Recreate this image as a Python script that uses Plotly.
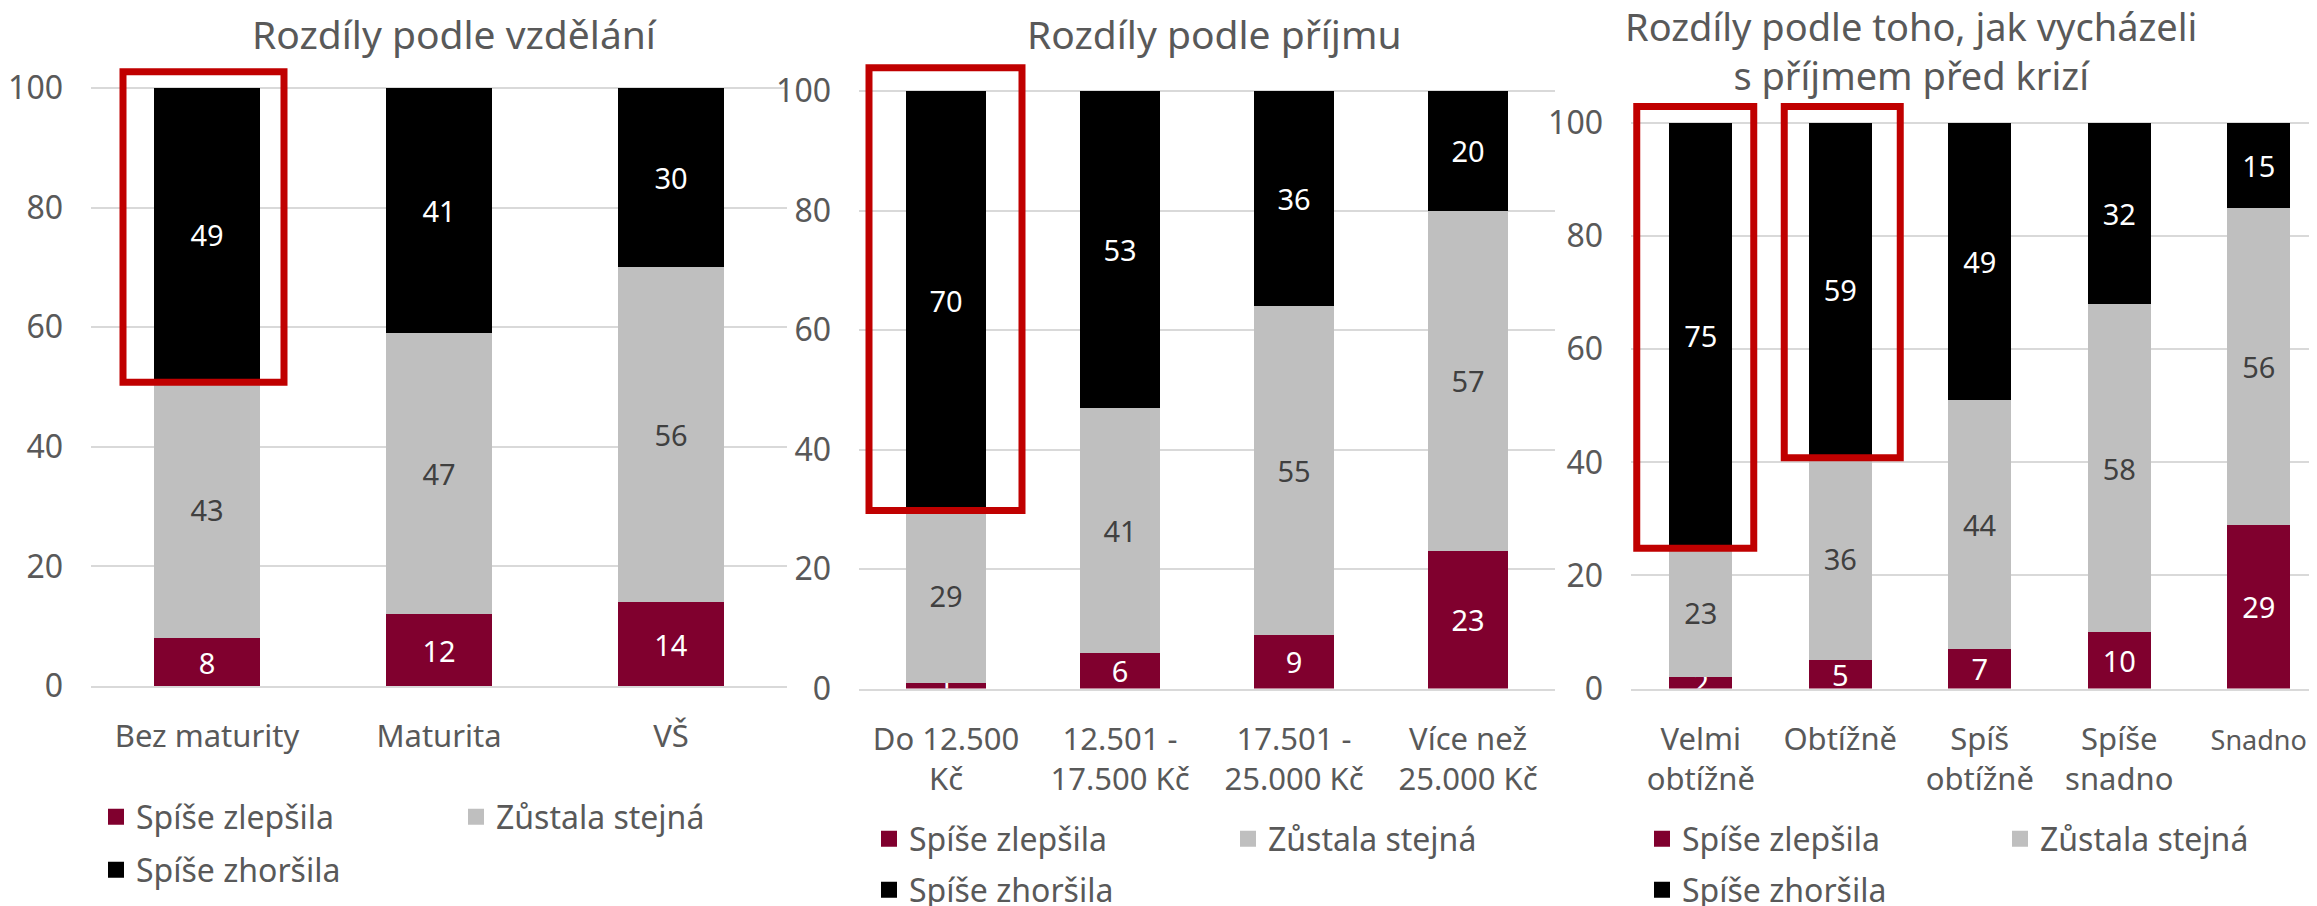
import plotly.graph_objects as go

W, H = 2317, 906
OFF = 8  # page body margin: figure pixel = screen pixel - OFF

# ---------------- data ----------------
series_names = ["Spíše zlepšila", "Zůstala stejná", "Spíše zhoršila"]

edu_cats = ["Bez maturity", "Maturita", "VŠ"]
edu_better = [8, 12, 14]
edu_same = [43, 47, 56]
edu_worse = [49, 41, 30]

inc_cats = ["Do 12.500<br>Kč", "12.501 -<br>17.500 Kč", "17.501 -<br>25.000 Kč", "Více než<br>25.000 Kč"]
inc_better = [1, 6, 9, 23]
inc_same = [29, 41, 55, 57]
inc_worse = [70, 53, 36, 20]

cope_cats = ["Velmi<br>obtížně", "Obtížně", "Spíš<br>obtížně", "Spíše<br>snadno", "Snadno"]
cope_better = [2, 5, 7, 10, 29]
cope_same = [23, 36, 44, 58, 56]
cope_worse = [75, 59, 49, 32, 15]

titles = ["Rozdíly podle vzdělání", "Rozdíly podle příjmu",
          "Rozdíly podle toho, jak vycházeli<br>s příjmem před krizí"]
y_ticks = [0, 20, 40, 60, 80, 100]
highlighted = [[0], [0], [0, 1]]

# ---------------- styles ----------------
FONT = "Noto Sans"
TXT = "#595959"
colors = ["#80002E", "#BFBFBF", "#000000"]
label_colors = ["#FFFFFF", "#404040", "#FFFFFF"]
GRID = "#D9D9D9"
XTICK_SIZE = 31
YTICK_SIZE = 32
LEG_SIZE = 32
LABEL_SIZE = 29
TITLE_SIZES = [39, 39, 38]
YMAX = 106  # headroom above 100 so the highlight frames are not clipped
EDGE_LABEL_SIZE = {"Snadno": 27}  # label at the cut right edge is set a bit smaller

# pixel layout given in screen coordinates
panels = [
    dict(cats=edu_cats, vals=[edu_better, edu_same, edu_worse],
         xpx=(91, 787), ypx=(88, 686), step=None, title_xy=(454, 33),
         leg_x=96, leg_rows=(817, 870), entry=315, rect_px=[(-84, 77)], top_pad=2.7),
    dict(cats=inc_cats, vals=[inc_better, inc_same, inc_worse],
         xpx=(859, 1555), ypx=(91, 688.6), step=None, title_xy=(1214, 33),
         leg_x=869, leg_rows=(839, 890), entry=314, rect_px=[(-77, 76)], top_pad=3.9),
    dict(cats=cope_cats, vals=[cope_better, cope_same, cope_worse],
         xpx=(1631, W + OFF), ypx=(123, 688.6), step=139.5, title_xy=(1911, 50),
         leg_x=1642, leg_rows=(839, 890), entry=313, rect_px=[(-64, 53), (-56, 60)], top_pad=2.9),
]

fig = go.Figure()
shapes = []
annotations = []
layout_extra = {}


def fx(v):
    return (v - OFF) / W


def fy(v):
    return 1 - (v - OFF) / H


def tick_label(c):
    if c in EDGE_LABEL_SIZE:
        return f'<span style="font-size:{EDGE_LABEL_SIZE[c]}px">{c}</span>'
    return c


for p, pan in enumerate(panels):
    k = "" if p == 0 else str(p + 1)
    legA = "legend" if p == 0 else f"legend{2 * p + 1}"
    legB = f"legend{2 * p + 2}"
    for s in range(3):
        fig.add_trace(go.Bar(
            x=pan["cats"], y=pan["vals"][s], name=series_names[s],
            marker=dict(color=colors[s], line=dict(width=0)),
            text=pan["vals"][s], textposition="inside", insidetextanchor="middle",
            textangle=0, constraintext="none",
            textfont=dict(family=FONT, size=LABEL_SIZE, color=label_colors[s]),
            xaxis="x" + k, yaxis="y" + k, showlegend=False,
            hoverinfo="skip",
        ))
    # legend keys (square swatches)
    for s in range(3):
        fig.add_trace(go.Scatter(
            x=[None], y=[None], mode="markers", name=series_names[s],
            marker=dict(symbol="square", size=20, color=colors[s]),
            xaxis="x" + k, yaxis="y" + k,
            legend=legA if s < 2 else legB, showlegend=True, hoverinfo="skip",
        ))
    x0, x1 = pan["xpx"]
    ytop, ybot = pan["ypx"]
    ppu = (ybot - ytop) / 100.0
    dom_top = ytop - (YMAX - 100) * ppu
    n = len(pan["cats"])
    if pan["step"]:
        xr = [-0.5, -0.5 + (x1 - x0) / pan["step"]]
    else:
        xr = [-0.5, n - 0.5]
    xa = dict(domain=[fx(x0), min(fx(x1), 1)], anchor="y" + k, range=xr,
              type="category", categoryorder="array", categoryarray=pan["cats"],
              tickmode="array", tickvals=pan["cats"],
              ticktext=[tick_label(c) for c in pan["cats"]],
              showline=True, linecolor=GRID, linewidth=2, showgrid=False,
              ticks="", ticklabelstandoff=22, automargin=False,
              tickfont=dict(family=FONT, size=XTICK_SIZE, color=TXT), fixedrange=True)
    ya = dict(domain=[fy(ybot), fy(dom_top)], anchor="x" + k,
              range=[0, YMAX], tickvals=y_ticks, showgrid=True, gridcolor=GRID,
              gridwidth=2, zeroline=False, showline=False, ticks="",
              ticklabelstandoff=27, automargin=False,
              tickfont=dict(family=FONT, size=YTICK_SIZE, color=TXT), fixedrange=True)
    layout_extra["xaxis" + k] = xa
    layout_extra["yaxis" + k] = ya

    # legends
    layout_extra[legA] = dict(orientation="h", x=fx(pan["leg_x"]), xanchor="left",
                              y=fy(pan["leg_rows"][0]), yanchor="middle",
                              entrywidth=pan["entry"], entrywidthmode="pixels",
                              font=dict(family=FONT, size=LEG_SIZE, color=TXT),
                              bgcolor="rgba(0,0,0,0)", traceorder="normal")
    layout_extra[legB] = dict(orientation="h", x=fx(pan["leg_x"]), xanchor="left",
                              y=fy(pan["leg_rows"][1]), yanchor="middle",
                              font=dict(family=FONT, size=LEG_SIZE, color=TXT),
                              bgcolor="rgba(0,0,0,0)")

    # title
    tx, ty = pan["title_xy"]
    annotations.append(dict(text=titles[p], x=fx(tx), y=fy(ty), xref="paper", yref="paper",
                            xanchor="center", yanchor="middle", showarrow=False,
                            font=dict(family=FONT, size=TITLE_SIZES[p], color=TXT)))

    # highlight frames around the "worse" segment
    for j, idx in enumerate(highlighted[p]):
        lo = pan["vals"][0][idx] + pan["vals"][1][idx]
        dx0, dx1 = pan["rect_px"][j]
        shapes.append(dict(type="rect", xref="x" + k, yref="y" + k,
                           xsizemode="pixel", xanchor=idx, x0=dx0, x1=dx1,
                           y0=lo - 0.2, y1=100 + pan["top_pad"],
                           line=dict(color="#C00000", width=7),
                           fillcolor="rgba(0,0,0,0)", layer="above"))

fig.update_layout(
    width=W, height=H, margin=dict(l=0, r=0, t=0, b=0, autoexpand=False),
    paper_bgcolor="white", plot_bgcolor="white",
    barmode="stack", bargap=0.545,
    font=dict(family=FONT, color=TXT),
    uniformtext=dict(minsize=LABEL_SIZE, mode="show"),
    shapes=shapes, annotations=annotations,
    **layout_extra,
)

fig.write_html("out.html")
